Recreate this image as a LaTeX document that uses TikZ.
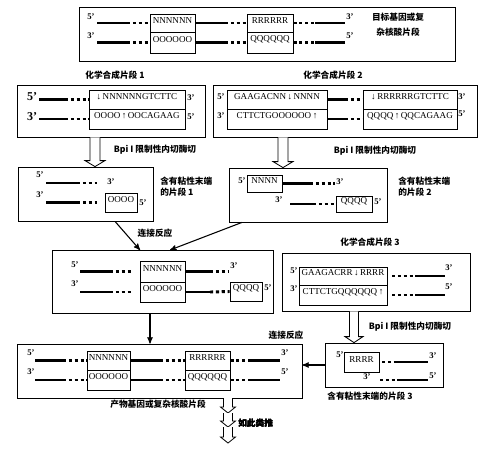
\documentclass[tikz,border=0pt]{standalone}
\usepackage{fontspec}
\setmainfont{Liberation Serif}
\newfontfamily\cjk{Noto Sans CJK SC}
\usetikzlibrary{arrows,calc,fit}

\newcommand{\blockarrow}[4]{%
  \draw[hollow] ($(#1)+(-#3,0)$) -- ($(#2)+(-#3,-6)$) -- ($(#2)+(-#4,-6)$) -- (#2)
    -- ($(#2)+(#4,-6)$) -- ($(#2)+(#3,-6)$) -- ($(#1)+(#3,0)$);}

\begin{document}
\begin{tikzpicture}[x=0.75pt,y=-0.75pt,>=stealth',
  panel/.style={draw, line width=0.6pt, inner sep=0pt},
  seq/.style={draw, line width=0.6pt, inner sep=0pt, font=\fontsize{6.8}{7}\selectfont},
  strand/.style={line width=2.1pt},
  nick/.style={line width=2.2pt, dash pattern=on 2.4pt off 2pt},
  prime/.style={inner sep=0pt, font=\bfseries\fontsize{6.5}{7}\selectfont},
  bigprime/.style={inner sep=0pt, font=\bfseries\fontsize{9}{9}\selectfont},
  note/.style={inner sep=0pt, font=\cjk\bfseries\fontsize{6.5}{8}\selectfont},
  link/.style={->, line width=0.8pt},
  hollow/.style={draw, line width=0.6pt, fill=white}]
  \useasboundingbox (0,0) rectangle (484,450);

  % target gene
  \node[panel, fit={(79,7) (455,61)}] (target) {};
  \node[seq, fit={(150,14) (195,32)}] (tN) {NNNNNN};
  \node[seq, fit={(150,32) (195,53)}] (tO) {OOOOOO};
  \node[seq, fit={(247,14) (293,32)}] (tR) {RRRRRR};
  \node[seq, fit={(247,32) (293,53)}] (tQ) {QQQQQQ};
  \node[prime] (t5a) at (91,17) {5'};
  \node[prime] (t3a) at (91,36) {3'};
  \node[prime] (t3b) at (350,17) {3'};
  \node[prime] (t5b) at (350,36) {5'};
  \draw[strand] (97,23) -- (127,23);
  \draw[nick] (127,23) -- (tN.west);
  \draw[strand] (tN.east) -- (225,23);
  \draw[nick] (225,23) -- (tR.west);
  \draw[nick] (tR.east) -- (315,23);
  \draw[strand] (315,23) -- (345,23);
  \draw[strand] (97,42.5) -- (127,42.5);
  \draw[nick] (127,42.5) -- (tO.west);
  \draw[strand] (tO.east) -- (225,42.5);
  \draw[nick] (225,42.5) -- (tQ.west);
  \draw[nick] (tQ.east) -- (315,42.5);
  \draw[strand] (315,42.5) -- (345,42.5);
  \node[note, align=center, font=\cjk\bfseries\fontsize{6.5}{11}\selectfont] (targetlbl) at (398,25) {目标基因或复\\杂核酸片段};

  % chemical fragment 1
  \node[note] (chemAlbl) at (115,75) {化学合成片段 1};
  \node[panel, fit={(17,85) (205,137)}] (chemA) {};
  \node[seq, fit={(89,90) (185,109)}] (aN) {↓\,NNNNNNGTCTTC};
  \node[seq, fit={(89,109) (185,129)}] (aO) {OOOO\,↑\,OOCAGAAG};
  \node[bigprime] (a5a) at (32,97) {5'};
  \node[bigprime] (a3a) at (32,117) {3'};
  \node[prime] (a3b) at (191,98) {3'};
  \node[prime] (a5b) at (191,117) {5'};
  \draw[strand] (39,99.5) -- (65,99.5);
  \draw[nick] (65,99.5) -- (aN.west);
  \draw[strand] (39,119) -- (65,119);
  \draw[nick] (65,119) -- (aO.west);

  % chemical fragment 2
  \node[note] (chemBlbl) at (333,75) {化学合成片段 2};
  \node[panel, fit={(213,85) (477,137)}] (chemB) {};
  \node[seq, fit={(227,90) (327,109)}] (bN) {GAAGACNN\,↓\,NNNN};
  \node[seq, fit={(227,109) (327,129)}] (bO) {CTTCTGOOOOOO\,↑};
  \node[seq, fit={(363,90) (457,109)}] (bR) {↓\,RRRRRRGTCTTC};
  \node[seq, fit={(363,109) (457,129)}] (bQ) {QQQQ\,↑\,QQCAGAAG};
  \node[prime] (b5a) at (221,97) {5'};
  \node[prime] (b3a) at (221,116) {3'};
  \node[prime] (b3b) at (462,97) {3'};
  \node[prime] (b5b) at (462,114) {5'};
  \draw[strand] (bN.east) -- (345,99.5);
  \draw[nick] (345,99.5) -- (bR.west);
  \draw[strand] (bO.east) -- (345,119);
  \draw[nick] (345,119) -- (bQ.west);

  % sticky fragment 1
  \node[panel, fit={(18,167) (153,221)}] (stickA) {};
  \node[seq, fit={(105,193) (137,212)}] (sO) {OOOO};
  \node[prime] (s5a) at (40,175) {5'};
  \node[prime] (s3a) at (111,182) {3'};
  \node[prime] (s3b) at (40,195) {3'};
  \node[prime] (s5b) at (143,203) {5'};
  \draw[strand] (46,183) -- (77,183);
  \draw[nick] (77,183) -- (97,183);
  \draw[strand] (46,202.5) -- (77,202.5);
  \draw[nick] (77,202.5) -- (97,202.5);
  \node[note, anchor=west, align=left] (stickAlbl) at (160,187) {含有粘性末端\\的片段 1};

  % sticky fragment 2
  \node[panel, fit={(229,168) (387,222)}] (stickB) {};
  \node[seq, fit={(247,175) (282,192)}] (sN) {NNNN};
  \node[seq, fit={(336,196) (372,212)}] (sQ) {QQQQ};
  \node[prime] (u5a) at (242,181) {5'};
  \node[prime] (u3a) at (340,182) {3'};
  \node[prime] (u3b) at (279,200) {3'};
  \node[prime] (u5b) at (378,202) {5'};
  \draw[strand] (sN.east) -- (310,183.5);
  \draw[nick] (310,183.5) -- (335,183.5);
  \draw[strand] (290,204) -- (313,204);
  \draw[nick] (313,204) -- (sQ.west);
  \node[note, anchor=west, align=left] (stickBlbl) at (398,187) {含有粘性末端\\的片段 2};

  % BpiI cuts
  \coordinate (bpiA) at (95,0);
  \coordinate (bpiA1) at (chemA.south -| bpiA);
  \coordinate (bpiA2) at (stickA.north -| bpiA);
  \blockarrow{bpiA1}{bpiA2}{5}{10}
  \node[note] (bpiAlbl) at (155,150) {Bpi I 限制性内切酶切};
  \coordinate (bpiB) at (283,0);
  \coordinate (bpiB1) at (chemB.south -| bpiB);
  \coordinate (bpiB2) at (stickB.north -| bpiB);
  \blockarrow{bpiB1}{bpiB2}{5}{10}
  \node[note] (bpiBlbl) at (375,151) {Bpi I 限制性内切酶切};

  % first ligation
  \node[panel, fit={(52,250) (273,313)}] (ligA) {};
  \node[seq, fit={(140,261) (185,282)}] (lN) {NNNNNN};
  \node[seq, fit={(140,282) (185,302)}] (lO) {OOOOOO};
  \node[seq, fit={(230,282) (262,301)}] (lQ) {QQQQ};
  \node[prime] (l5a) at (75,265) {5'};
  \node[prime] (l3a) at (75,284) {3'};
  \node[prime] (l3b) at (234,266) {3'};
  \node[prime] (l5b) at (268,288) {5'};
  \draw[strand] (80,271.5) -- (110,271.5);
  \draw[nick] (110,271.5) -- (133,271.5);
  \draw[strand] (lN.east) -- (210,271.5);
  \draw[nick] (210,271.5) -- (228,271.5);
  \draw[strand] (80,292) -- (110,292);
  \draw[nick] (110,292) -- (133,292);
  \draw[strand] (lO.east) -- (210,292);
  \draw[nick] (210,292) -- (lQ.west);
  \coordinate (joinA) at (115,0);
  \coordinate (joinB) at (242,0);
  \draw[link] (stickA.south -| joinA) -- (140,250);
  \draw[link] (stickB.south -| joinB) -- (170,250);
  \node[note] (joinAlbl) at (155,233) {连接反应};

  % chemical fragment 3
  \node[note] (chemClbl) at (370,242) {化学合成片段 3};
  \node[panel, fit={(282,253) (470,311)}] (chemC) {};
  \node[seq, fit={(299,267) (387,285)}] (cR) {GAAGACRR\,↓\,RRRR};
  \node[seq, fit={(299,285) (387,305)}] (cQ) {CTTCTGQQQQQQ\,↑};
  \node[prime] (c5a) at (294,271) {5'};
  \node[prime] (c3a) at (294,289) {3'};
  \node[prime] (c3b) at (449,268) {3'};
  \node[prime] (c5b) at (449,287) {5'};
  \draw[nick] (392,276) -- (415,276);
  \draw[strand] (415,276) -- (445,276);
  \draw[nick] (392,295) -- (415,295);
  \draw[strand] (415,295) -- (445,295);

  % product
  \node[panel, fit={(17,344) (302,398)}] (prod) {};
  \node[seq, fit={(87,351) (130,370)}] (pN) {NNNNNN};
  \node[seq, fit={(87,370) (130,390)}] (pO) {OOOOOO};
  \node[seq, fit={(185,351) (230,370)}] (pR) {RRRRRR};
  \node[seq, fit={(185,370) (230,390)}] (pQ) {QQQQQQ};
  \node[prime] (p5a) at (31,353) {5'};
  \node[prime] (p3a) at (31,372) {3'};
  \node[prime] (p3b) at (285,353) {3'};
  \node[prime] (p5b) at (285,372) {5'};
  \draw[strand] (35,360.5) -- (63,360.5);
  \draw[nick] (63,360.5) -- (pN.west);
  \draw[strand] (pN.east) -- (160,360.5);
  \draw[nick] (160,360.5) -- (pR.west);
  \draw[nick] (pR.east) -- (250,360.5);
  \draw[strand] (250,360.5) -- (280,360.5);
  \draw[strand] (35,380) -- (63,380);
  \draw[nick] (63,380) -- (pO.west);
  \draw[strand] (pO.east) -- (160,380);
  \draw[nick] (160,380) -- (pQ.west);
  \draw[nick] (pQ.east) -- (250,380);
  \draw[strand] (250,380) -- (280,380);
  \node[note] (prodlbl) at (158,404) {产物基因或复杂核酸片段};
  \coordinate (joinC) at (150,0);
  \draw[link] (ligA.south -| joinC) -- (prod.north -| joinC);

  % sticky fragment 3
  \node[panel, fit={(325,343) (443,387)}] (stickC) {};
  \node[seq, fit={(344,352) (379,372)}] (sR) {RRRR};
  \node[prime] (v5a) at (340,355) {5'};
  \node[prime] (v3a) at (433,356) {3'};
  \node[prime] (v3b) at (367,377) {3'};
  \node[prime] (v5b) at (433,376) {5'};
  \draw[nick] (382,362) -- (397,362);
  \draw[strand] (397,362) -- (428,362);
  \draw[nick] (380,380) -- (397,380);
  \draw[strand] (397,380) -- (428,380);
  \node[note] (stickClbl) at (370,396) {含有粘性末端的片段 3};
  \coordinate (bpiC) at (354,0);
  \coordinate (bpiC1) at (chemC.south -| bpiC);
  \coordinate (bpiC2) at (stickC.north -| bpiC);
  \blockarrow{bpiC1}{bpiC2}{4.5}{9}
  \node[note] (bpiClbl) at (410,327) {Bpi I 限制性内切酶切};
  \draw[link] (stickC.west) -- (stickC.west -| prod.east);
  \node[note] (joinClbl) at (286,335) {连接反应};

  % and so on
  \foreach \a/\b in {398/413,413/427,427/443}
    \blockarrow{228,\a}{228,\b}{4.5}{7.5}
  \node[note, anchor=west] (etclbl) at (238,423) {如此类推};
\end{tikzpicture}
\end{document}
